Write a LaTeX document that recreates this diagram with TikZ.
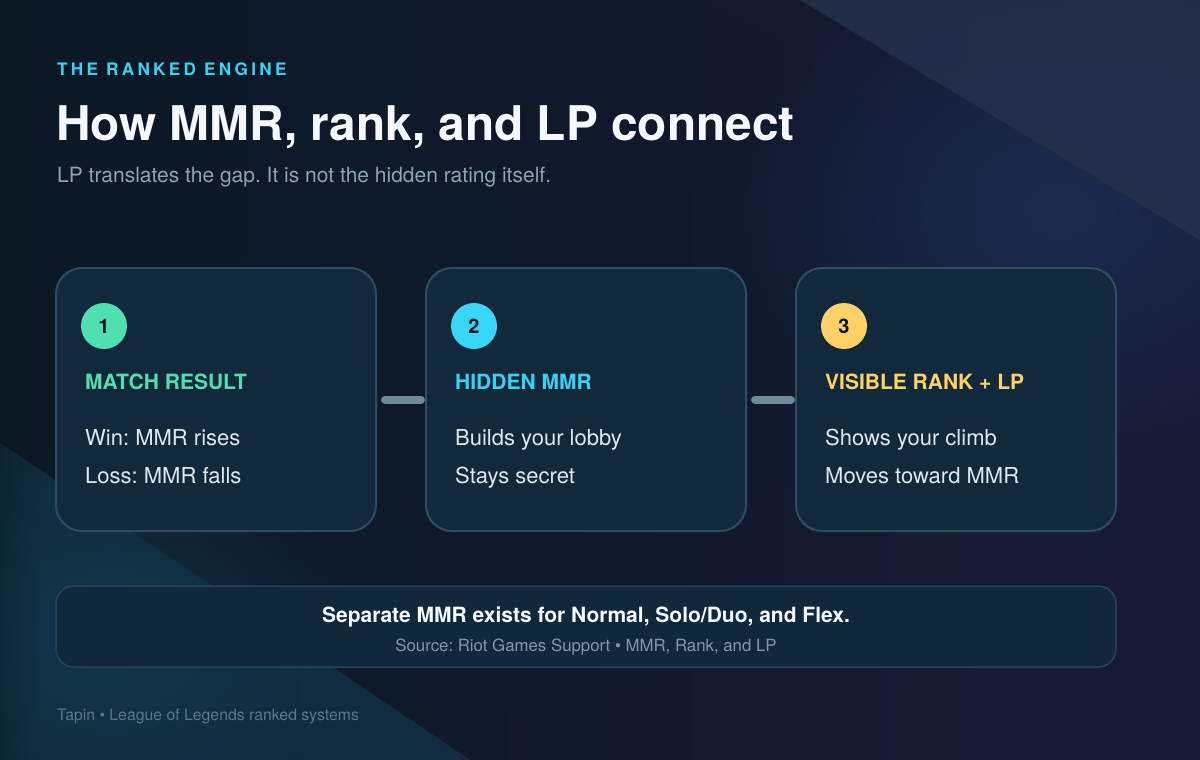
\documentclass[tikz,border=0pt]{standalone}
\usepackage{fontspec}
\setmainfont{TeX Gyre Heros}
\frenchspacing
\usetikzlibrary{fadings}
\tikzfading[name=glowfade, inner color=transparent!0, outer color=transparent!100]
\definecolor{bgA}{HTML}{0B1824}
\definecolor{bgB}{HTML}{0D1B2A}
\definecolor{bgC}{HTML}{181A35}
\definecolor{triTR}{HTML}{24304B}
\definecolor{blueGlow}{HTML}{1B2D52}
\definecolor{tealGlow}{HTML}{12394C}
\definecolor{cardFill}{HTML}{12283B}
\definecolor{cardLine}{HTML}{2E4C66}
\definecolor{boxFill}{HTML}{11273A}
\definecolor{boxLine}{HTML}{26425B}
\definecolor{connC}{HTML}{6E889C}
\definecolor{eyebrowC}{HTML}{3AD1F2}
\definecolor{titleC}{HTML}{F5F9FD}
\definecolor{subC}{HTML}{8EA3B4}
\definecolor{bodyC}{HTML}{DFE8F0}
\definecolor{srcC}{HTML}{8497A9}
\definecolor{footC}{HTML}{5D7689}
\definecolor{numC}{HTML}{0A1520}
\definecolor{greenC}{HTML}{4FE0B2}
\definecolor{cyanC}{HTML}{38D6F8}
\definecolor{yellowC}{HTML}{FFD166}
\pgfdeclarelayer{back}
\pgfdeclarelayer{mid}
\pgfsetlayers{back,mid,main}
\tikzset{
  card/.style={draw=cardLine, line width=2pt, fill=cardFill, rounded corners=26pt,
    minimum width=320pt, minimum height=263pt, inner sep=0pt},
  badge/.style={circle, minimum size=46pt, inner sep=0pt, text=numC,
    font=\fontsize{20}{24}\selectfont\bfseries},
  head/.style={anchor=base west, inner sep=0pt, font=\fontsize{21}{25}\selectfont\bfseries},
  body/.style={anchor=base west, inner sep=0pt, text=bodyC, font=\fontsize{22}{26}\selectfont},
  conn/.style={draw=connC, line width=8pt, line cap=round},
  plain/.style={anchor=base west, inner sep=0pt}
}
\begin{document}
\begin{tikzpicture}[x=1pt,y=-1pt]
\useasboundingbox (0,0) rectangle (1200,760);
\begin{pgfonlayer}{back}
  \shade[shading angle=120, left color=bgA, right color=bgC] (0,0) rectangle (1200,760);
  \fill[bgB, opacity=0.6, path fading=glowfade] (450,330) ellipse (520pt and 380pt);
  % top-right glow and triangle
  \fill[blueGlow, path fading=glowfade, opacity=0.9] (1060,210) ellipse (330pt and 260pt);
  \fill[triTR, opacity=0.85] (800,0) -- (1200,0) -- (1200,240) -- cycle;
  % bottom-left teal
  \begin{scope}
    \clip (0,443) -- (470,760) -- (0,760) -- cycle;
    \fill[tealGlow, opacity=0.6] (0,0) rectangle (1200,760);
  \end{scope}
  \fill[tealGlow, path fading=glowfade, opacity=0.8] (110,640) ellipse (260pt and 200pt);
  \fill[bgA, opacity=0.35, path fading=east] (0,0) rectangle (40,760);
\end{pgfonlayer}

% header
\node[plain, text=eyebrowC, font=\fontsize{17.2}{20}\selectfont\bfseries\addfontfeatures{LetterSpace=19}] (eyebrow) at (57,76) {THE RANKED ENGINE};
\node[plain, text=titleC, font=\fontsize{47.8}{54}\selectfont\bfseries] (title) at (56,140) {How MMR, rank, and LP connect};
\node[plain, text=subC, font=\fontsize{21}{25}\selectfont] (subtitle) at (57,182) {LP translates the gap. It is not the hidden rating itself.};

% cards
\node[card] (c1) at (216,399.5) {};
\node[card] (c2) at (586,399.5) {};
\node[card] (c3) at (956,399.5) {};

\begin{pgfonlayer}{mid}
  \draw[conn] ([xshift=8pt]c1.east) -- ([xshift=-4pt]c2.west);
  \draw[conn] ([xshift=8pt]c2.east) -- ([xshift=-4pt]c3.west);
\end{pgfonlayer}

\node[badge, fill=greenC] (b1) at (104,326) {1};
\node[badge, fill=cyanC] (b2) at (474,326) {2};
\node[badge, fill=yellowC] (b3) at (844,326) {3};

\node[head, text=greenC] (h1) at (85,389) {MATCH RESULT};
\node[head, text=eyebrowC] (h2) at (455,389) {HIDDEN MMR};
\node[head, text=yellowC] (h3) at (825,389) {VISIBLE RANK + LP};

\node[body] (t1a) at (85,445) {Win: MMR rises};
\node[body] (t1b) at (85,483) {Loss: MMR falls};
\node[body] (t2a) at (455,445) {Builds your lobby};
\node[body] (t2b) at (455,483) {Stays secret};
\node[body] (t3a) at (825,445) {Shows your climb};
\node[body] (t3b) at (825,483) {Moves toward MMR};

% bottom note
\node[draw=boxLine, line width=1.5pt, fill=boxFill, rounded corners=18pt,
  minimum width=1060pt, minimum height=81pt, inner sep=0pt] (note) at (586,626.5) {};
\node[inner sep=0pt, anchor=base, text=titleC, font=\fontsize{21}{25}\selectfont\bfseries] (noteA) at (586,622) {Separate MMR exists for Normal, Solo/Duo, and Flex.};
\node[inner sep=0pt, anchor=base, text=srcC, font=\fontsize{16.8}{20}\selectfont] (noteB) at (586,651) {Source: Riot Games Support \textbullet{} MMR, Rank, and LP};

% footer
\node[plain, text=footC, font=\fontsize{15.8}{19}\selectfont] (footer) at (57,720) {Tapin \textbullet{} League of Legends ranked systems};
\end{tikzpicture}
\end{document}
